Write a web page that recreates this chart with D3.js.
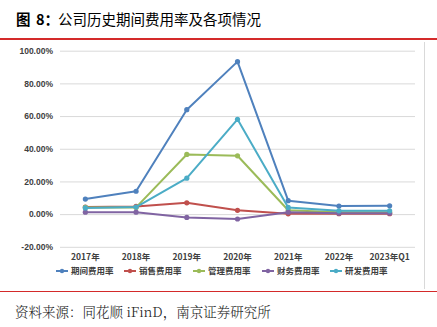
<!DOCTYPE html>
<html><head><meta charset="utf-8">
<script src="https://cdn.jsdelivr.net/npm/d3@7"></script>
<style>
html,body{margin:0;padding:0;background:#fff;}
svg{display:block;}
</style></head>
<body>
<script>
const categories = ["2017年","2018年","2019年","2020年","2021年","2022年","2023年Q1"];
const seriesNames = ["期间费用率","销售费用率","管理费用率","财务费用率","研发费用率"];
const seriesColors = ["#4f81bd","#c0504d","#9bbb59","#8064a2","#4bacc6"];
const qjfy = [9.2, 14.0, 63.9, 93.3, 8.2, 4.9, 5.1];
const xsfy = [4.3, 4.7, 6.9, 2.3, 0.2, 0.3, 0.3];
const glfy = [4.1, 4.1, 36.5, 35.7, 2.4, 1.2, 1.2];
const cwfy = [1.2, 1.2, -2.0, -3.0, 1.2, 0.6, 0.6];
const yffy = [3.8, 4.3, 22.0, 58.0, 4.1, 2.0, 2.0];
const seriesValues = [qjfy, xsfy, glfy, cwfy, yffy];
const yTicks = [-20, 0, 20, 40, 60, 80, 100];
const titleLabel = "图";
const titleNum = "8：";
const titleBody = "公司历史期间费用率及各项情况";
const sourceText = "资料来源：同花顺 iFinD，南京证券研究所";

const W = 437, H = 327;
const svg = d3.select("body").append("svg").attr("width", W).attr("height", H);

// title
const tf = "'Noto Sans CJK SC', sans-serif";
svg.append("text").attr("x", 16).attr("y", 25).attr("font-family", tf).attr("font-size", 14.5)
  .attr("font-weight", "bold").attr("fill", "#000").text(titleLabel);
svg.append("text").attr("x", 36).attr("y", 25).attr("font-family", tf).attr("font-size", 14.5)
  .attr("font-weight", "bold").attr("fill", "#000").text(titleNum);
svg.append("text").attr("x", 58).attr("y", 25).attr("font-family", tf).attr("font-size", 14.5)
  .attr("fill", "#000").text(titleBody);

// red rules
svg.append("line").attr("x1", 0).attr("x2", W).attr("y1", 39).attr("y2", 39)
  .attr("stroke", "#d42a2a").attr("stroke-width", 2);
svg.append("line").attr("x1", 0).attr("x2", W).attr("y1", 291.5).attr("y2", 291.5)
  .attr("stroke", "#d42a2a").attr("stroke-width", 1.2);
// right frame line
svg.append("line").attr("x1", 424.5).attr("x2", 424.5).attr("y1", 42).attr("y2", 289)
  .attr("stroke", "#d9d9d9").attr("stroke-width", 1);

// source
svg.append("text").attr("x", 15).attr("y", 317)
  .attr("font-family", "'Noto Serif CJK SC','Noto Sans CJK SC', serif").attr("font-size", 13.5)
  .attr("font-weight", 300).attr("fill", "#222").text(sourceText);

const plotL = 60, plotR = 415;
const x = d3.scaleBand().domain(categories).range([plotL, plotR]);
const y = d3.scaleLinear().domain([-20, 100]).range([246.8, 50.7]);

// grid
const yAxis = d3.axisLeft(y).tickValues(yTicks).tickSize(-(plotR - plotL))
  .tickFormat(d => d.toFixed(2) + "%");
const gy = svg.append("g").attr("transform", `translate(${plotL},0)`).call(yAxis);
gy.select(".domain").remove();
gy.selectAll(".tick line").attr("stroke", "#d9d9d9").attr("stroke-width", 1);
gy.selectAll(".tick text").attr("x", -7).attr("font-family", "'Liberation Sans', Arial, sans-serif")
  .attr("font-size", 8.5).attr("font-weight", "bold").attr("fill", "#404040");

// x axis labels
const xAxis = d3.axisBottom(x).tickSize(0);
const gx = svg.append("g").attr("transform", `translate(0,252)`).call(xAxis);
gx.select(".domain").remove();
gx.selectAll(".tick text").attr("dy", "0.32em").attr("y", 5)
  .attr("font-family", "'Noto Sans CJK SC', sans-serif").attr("font-size", 8.5)
  .attr("font-weight", "bold").attr("fill", "#404040");

// lines
const line = d3.line().x((d, i) => x(categories[i]) + x.bandwidth() / 2).y(d => y(d));
seriesValues.forEach((vals, si) => {
  const g = svg.append("g");
  g.append("path").datum(vals).attr("d", line).attr("fill", "none")
    .attr("stroke", seriesColors[si]).attr("stroke-width", 2).attr("stroke-linejoin", "round");
  g.selectAll("circle").data(vals).join("circle")
    .attr("cx", (d, i) => x(categories[i]) + x.bandwidth() / 2).attr("cy", d => y(d))
    .attr("r", 2.6).attr("fill", seriesColors[si]);
});

// legend
const legendX = [56, 124, 193, 262, 330];
const lg = svg.append("g").attr("transform", "translate(0,271)");
seriesNames.forEach((n, i) => {
  const g = lg.append("g").attr("transform", `translate(${legendX[i]},0)`);
  g.append("line").attr("x1", 0).attr("x2", 12).attr("y1", 0).attr("y2", 0)
    .attr("stroke", seriesColors[i]).attr("stroke-width", 2);
  g.append("circle").attr("cx", 6).attr("cy", 0).attr("r", 2.2).attr("fill", seriesColors[i]);
  g.append("text").attr("x", 15).attr("y", 0).attr("dy", "0.35em")
    .attr("font-family", "'Noto Sans CJK SC', sans-serif").attr("font-size", 8.5)
    .attr("font-weight", "bold").attr("fill", "#404040").text(n);
});
</script>
</body></html>
